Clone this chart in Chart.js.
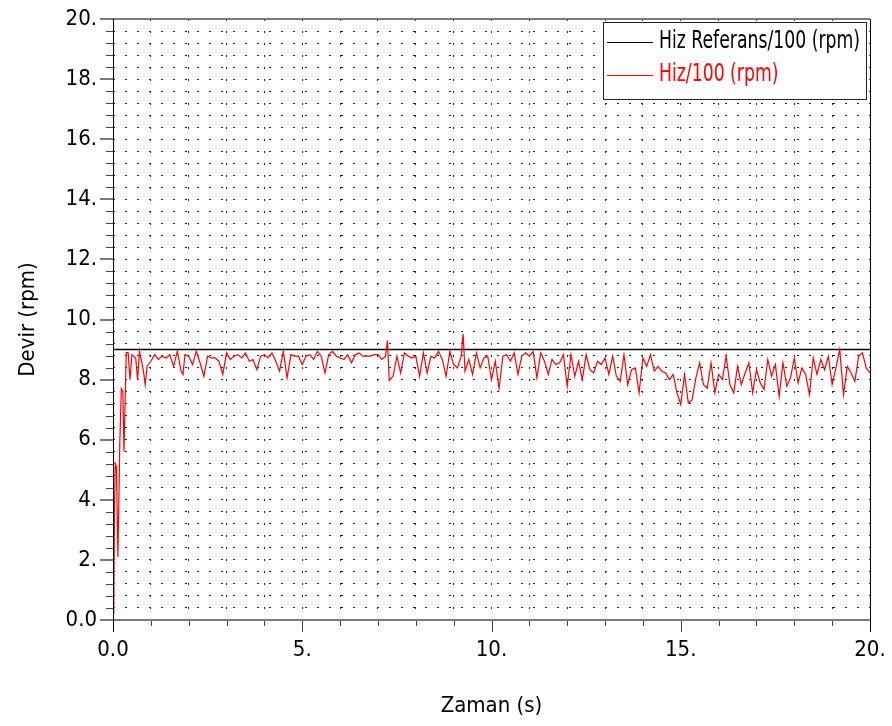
<!DOCTYPE html>
<html>
<head>
<meta charset="utf-8">
<script src="https://cdn.jsdelivr.net/npm/chart.js@4/dist/chart.umd.min.js"></script>
<style>
  html, body { margin: 0; padding: 0; background: #fff; }
  #wrap { width: 892px; height: 726px; }
</style>
</head>
<body>
<div id="wrap"><canvas id="speedChart" width="892" height="726"></canvas></div>
<script>
// Reference speed (constant)
const refTime = [0, 20];
const refSpeed = [9, 9];

const speedTime = [
  0.02, 0.04, 0.06, 0.09, 0.13, 0.18, 0.22, 0.26, 0.29, 0.35,
  0.40, 0.45, 0.50, 0.60, 0.65, 0.70, 0.80, 0.85, 0.90, 1.00,
  1.10, 1.20, 1.30, 1.40, 1.50, 1.60, 1.70, 1.80, 1.85, 1.90,
  2.0, 2.1, 2.2, 2.3, 2.4, 2.5, 2.6, 2.7, 2.8, 2.9,
  3.0, 3.1, 3.2, 3.3, 3.4, 3.5, 3.6, 3.7, 3.8, 3.9,
  4.0, 4.1, 4.2, 4.3, 4.4, 4.5, 4.6, 4.7, 4.8, 4.9,
  5.0, 5.1, 5.2, 5.3, 5.4, 5.5, 5.6, 5.7, 5.8, 5.9,
  6.0, 6.1, 6.2, 6.3, 6.4, 6.5, 6.6, 6.7, 6.8, 6.9,
  7.0, 7.1, 7.2, 7.25, 7.3, 7.4, 7.5, 7.6, 7.7, 7.8, 7.9,
  8.0, 8.1, 8.2, 8.3, 8.4, 8.5, 8.6, 8.7, 8.8, 8.9,
  9.0, 9.1, 9.2, 9.25, 9.3, 9.4, 9.5, 9.6, 9.7, 9.8, 9.9,
  10.0, 10.1, 10.2, 10.3, 10.4, 10.5, 10.6, 10.7, 10.8, 10.9,
  11.0, 11.1, 11.2, 11.3, 11.4, 11.5, 11.6, 11.7, 11.8, 11.9,
  12.0, 12.1, 12.2, 12.3, 12.4, 12.5, 12.6, 12.7, 12.8, 12.9,
  13.0, 13.1, 13.2, 13.3, 13.4, 13.5, 13.6, 13.7, 13.8, 13.9,
  14.0, 14.1, 14.2, 14.3, 14.4, 14.5, 14.6, 14.7, 14.8, 14.9,
  15.0, 15.1, 15.2, 15.3, 15.4, 15.5, 15.6, 15.7, 15.8, 15.9,
  16.0, 16.1, 16.2, 16.3, 16.4, 16.5, 16.6, 16.7, 16.8, 16.9,
  17.0, 17.1, 17.2, 17.3, 17.4, 17.5, 17.6, 17.7, 17.8, 17.9,
  18.0, 18.1, 18.2, 18.3, 18.4, 18.5, 18.6, 18.7, 18.8, 18.9,
  19.0, 19.1, 19.2, 19.3, 19.4, 19.5, 19.6, 19.7, 19.8, 19.9, 20.0
];
const speedValue = [
  0.2, 3.8, 5.2, 5.1, 2.1, 5.9, 7.7, 7.6, 5.6, 8.9,
  8.89, 8.00, 8.83, 8.72, 8.00, 8.94, 8.33, 7.83, 8.44, 8.61,
  8.83, 8.67, 8.78, 8.72, 8.83, 8.44, 8.94, 8.28, 8.17, 8.83,
  8.78, 8.50, 8.94, 8.56, 8.11, 8.78, 8.72, 8.72, 8.61, 8.17,
  8.89, 8.67, 8.78, 8.83, 8.72, 8.89, 8.61, 8.67, 8.33, 8.78,
  8.83, 8.72, 8.89, 8.61, 8.28, 8.94, 8.06, 8.83, 8.78, 8.78,
  8.50, 8.78, 8.83, 8.67, 8.94, 8.78, 8.22, 8.83, 8.94, 8.78,
  8.72, 8.67, 8.83, 8.56, 8.83, 8.89, 8.78, 8.78, 8.78, 8.83,
  8.83, 8.67, 8.78, 9.30, 7.97, 8.11, 8.78, 8.22, 8.89, 8.78, 8.72,
  8.78, 8.11, 8.89, 8.22, 8.78, 8.72, 8.94, 8.67, 8.11, 8.94,
  8.50, 8.39, 8.78, 9.52, 8.28, 8.67, 8.17, 8.89, 8.39, 8.72, 8.78,
  8.00, 8.61, 7.70, 8.78, 8.83, 8.61, 8.89, 8.17, 8.78, 8.89,
  8.78, 8.94, 8.06, 8.89, 8.61, 8.17, 8.67, 8.50, 8.56, 8.83,
  7.78, 8.83, 8.11, 8.61, 8.00, 8.83, 8.33, 8.22, 8.61, 8.50,
  8.72, 8.17, 8.78, 8.11, 7.94, 8.83, 7.83, 8.33, 8.39, 7.56,
  8.72, 8.44, 8.83, 8.28, 8.44, 8.28, 8.22, 8.00, 8.17, 7.56,
  7.17, 8.17, 7.22, 7.33, 8.06, 8.56, 7.83, 7.72, 8.56, 7.56,
  8.17, 8.00, 8.78, 7.83, 7.56, 8.44, 7.83, 8.22, 8.56, 7.56,
  8.33, 7.89, 7.67, 8.67, 8.11, 8.50, 7.44, 8.56, 7.78, 8.06,
  8.72, 7.89, 8.39, 8.17, 7.50, 8.72, 8.17, 8.67, 8.33, 8.78,
  7.83, 8.39, 9.00, 7.50, 8.44, 8.22, 7.94, 8.78, 8.89, 8.39, 8.22
];

const seriesLabels = ['Hiz Referans/100 (rpm)', 'Hiz/100 (rpm)'];
const xTitle = 'Zaman (s)';
const yTitle = 'Devir (rpm)';

const FONT = "'Liberation Sans Narrow', 'DejaVu Sans Condensed', 'Arial Narrow', sans-serif";

function toPoints(xs, ys) {
  return xs.map((x, i) => ({ x: x, y: ys[i] }));
}

function isMultiple(v, m) {
  return Math.abs(v / m - Math.round(v / m)) < 1e-6;
}

function fmt(v) {
  const r = Math.round(v);
  return r === 0 ? '0.0' : r + '.';
}

// frame, tick marks and the boxed legend
const framePlugin = {
  id: 'frame',
  afterDraw(chart) {
    const ctx = chart.ctx;
    const a = chart.chartArea;
    const xs = chart.scales.x, ys = chart.scales.y;
    ctx.save();

    // y tick marks
    ys.ticks.forEach(t => {
      const y = Math.round(ys.getPixelForValue(t.value));
      const major = isMultiple(t.value, 2);
      ctx.strokeStyle = major ? '#7a7a7a' : '#444';
      ctx.lineWidth = major ? 2 : 1;
      ctx.beginPath();
      ctx.moveTo(a.left - (major ? 13 : 7), y + (major ? 0 : 0.5));
      ctx.lineTo(a.left, y + (major ? 0 : 0.5));
      ctx.stroke();
    });
    // x tick marks
    xs.ticks.forEach(t => {
      const x = Math.round(xs.getPixelForValue(t.value)) + 0.5;
      const major = isMultiple(t.value, 5);
      ctx.strokeStyle = '#444';
      ctx.lineWidth = 1;
      ctx.beginPath();
      ctx.moveTo(x, a.bottom);
      ctx.lineTo(x, a.bottom + (major ? 12 : 6));
      ctx.stroke();
    });

    // frame: grey top/bottom, black left/right
    ctx.strokeStyle = '#7a7a7a';
    ctx.lineWidth = 2;
    ctx.beginPath();
    ctx.moveTo(a.left - 13, a.top); ctx.lineTo(a.right, a.top);
    ctx.moveTo(a.left - 13, a.bottom); ctx.lineTo(a.right, a.bottom);
    ctx.stroke();
    ctx.strokeStyle = '#000';
    ctx.lineWidth = 1;
    ctx.beginPath();
    ctx.moveTo(a.left + 0.5, a.top); ctx.lineTo(a.left + 0.5, a.bottom + 12);
    ctx.moveTo(a.right + 0.5, a.top); ctx.lineTo(a.right + 0.5, a.bottom + 12);
    ctx.stroke();

    // legend box
    const bx = 603.5, by = 22.5, bw = 263, bh = 77;
    ctx.fillStyle = '#fff';
    ctx.fillRect(bx, by, bw, bh);
    ctx.strokeStyle = '#222';
    ctx.lineWidth = 1;
    ctx.strokeRect(bx, by, bw, bh);
    ctx.font = '24px ' + FONT;
    // squeeze the text so the long label fits the box like the original
    const squeeze = Math.min(1, 201 / ctx.measureText(chart.data.datasets[0].label).width);
    const rows = [42, 75];
    chart.data.datasets.forEach((ds, i) => {
      const y = rows[i];
      ctx.strokeStyle = ds.borderColor;
      ctx.lineWidth = 1;
      ctx.beginPath();
      ctx.moveTo(607, y + 0.5);
      ctx.lineTo(653, y + 0.5);
      ctx.stroke();
      ctx.save();
      ctx.translate(659, y);
      ctx.scale(squeeze, 1);
      ctx.fillStyle = ds.borderColor;
      ctx.textBaseline = 'middle';
      ctx.textAlign = 'left';
      ctx.fillText(ds.label, 0, 0);
      ctx.restore();
    });
    ctx.restore();
  }
};

new Chart(document.getElementById('speedChart'), {
  type: 'line',
  data: {
    datasets: [
      {
        label: seriesLabels[0],
        data: toPoints(refTime, refSpeed),
        borderColor: '#000000',
        borderWidth: 1.5,
        pointRadius: 0,
        order: 1
      },
      {
        label: seriesLabels[1],
        data: toPoints(speedTime, speedValue),
        borderColor: '#ff0000',
        borderWidth: 1.2,
        pointRadius: 0,
        order: 0
      }
    ]
  },
  options: {
    responsive: false,
    animation: false,
    layout: { padding: { top: 19, right: 22, left: 0, bottom: 0 } },
    plugins: {
      legend: { display: false },
      tooltip: { enabled: false }
    },
    scales: {
      x: {
        type: 'linear',
        min: 0,
        max: 20,
        afterFit(scale) {
          scale.height = 106;
          scale.paddingLeft = 0;
          scale.paddingRight = 0;
        },
        grid: { color: '#222', lineWidth: 1, drawTicks: false },
        border: { display: false, dash: [2, 10] },
        ticks: {
          stepSize: 1,
          autoSkip: false,
          maxRotation: 0,
          padding: 17,
          color: '#000',
          font: { family: FONT, size: 22 },
          callback: v => isMultiple(v, 5) ? fmt(v) : ''
        },
        title: {
          display: true,
          text: xTitle,
          color: '#000',
          font: { family: FONT, size: 22 },
          padding: { bottom: 7 }
        }
      },
      y: {
        min: 0,
        max: 20,
        afterFit(scale) {
          scale.width = 113;
          scale.paddingTop = 0;
          scale.paddingBottom = 0;
        },
        grid: { color: '#222', lineWidth: 1, drawTicks: false },
        border: { display: false, dash: [2, 10] },
        ticks: {
          stepSize: 0.4,
          autoSkip: false,
          padding: 16,
          color: '#000',
          font: { family: FONT, size: 22 },
          callback: v => isMultiple(v, 2) ? fmt(v) : ''
        },
        title: {
          display: true,
          text: yTitle,
          color: '#000',
          font: { family: FONT, size: 22 },
          padding: { top: 15 }
        }
      }
    }
  },
  plugins: [framePlugin]
});
</script>
</body>
</html>
